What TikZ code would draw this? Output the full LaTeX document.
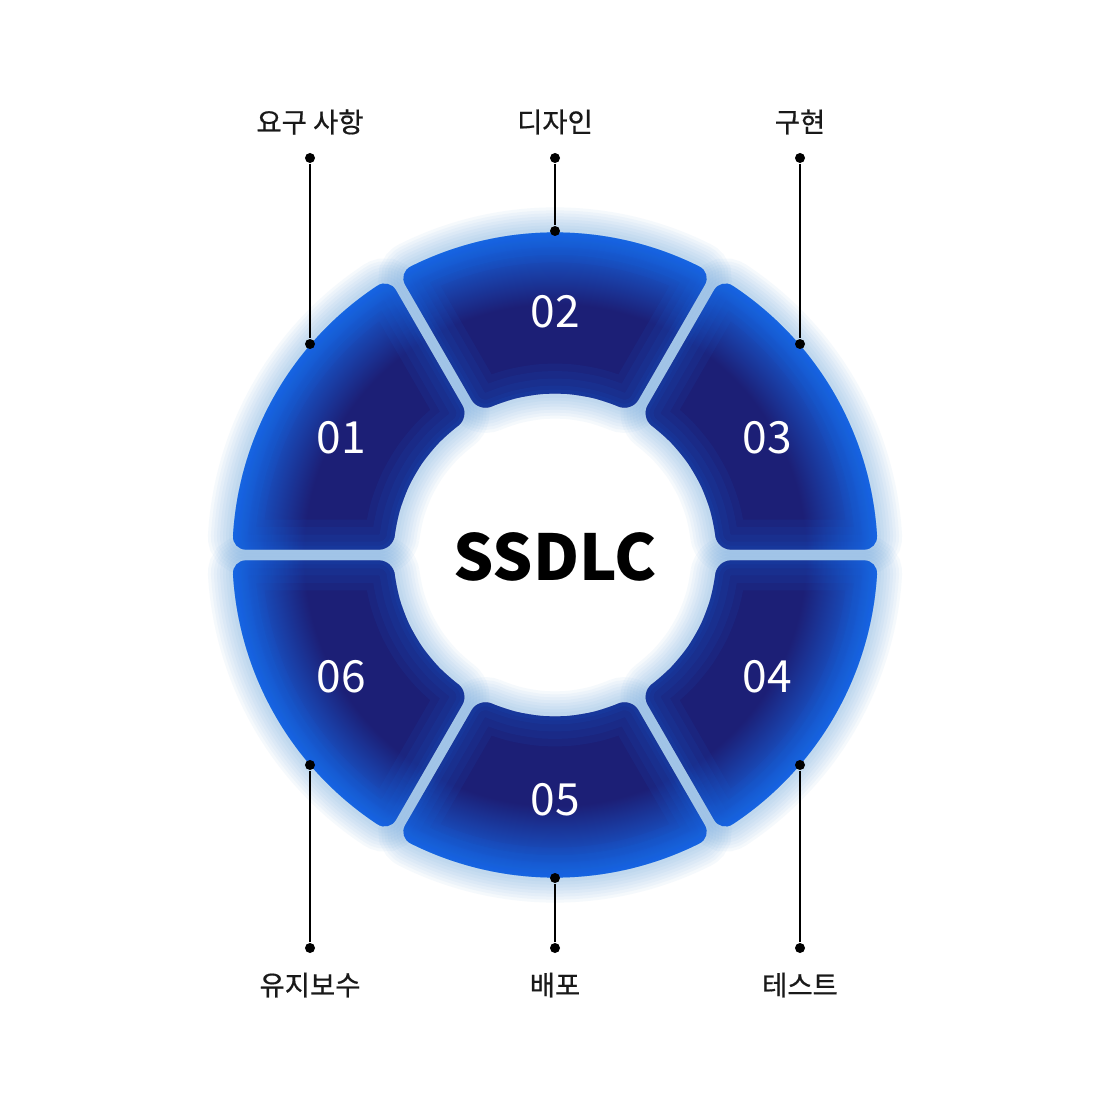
\documentclass[tikz,border=0pt]{standalone}
\usepackage{fontspec}
\setmainfont{Noto Sans CJK KR}
\newfontfamily\krlabel[FakeBold=0.6]{Noto Sans CJK KR}
\usepackage{tikz}
\definecolor{navy}{RGB}{28,31,118}
\definecolor{bright}{RGB}{22,108,236}
\definecolor{halo}{RGB}{100,160,220}
\definecolor{ink}{RGB}{25,25,25}
\pgfdeclareradialshading{ringshade}{\pgforigin}{color(0bp)=(navy); color(19bp)=(navy); color(25bp)=(bright); color(50bp)=(bright)}
\newcommand{\segpath}[2]{({#1+1.9}:162) -- ({#1+0.95}:323)
  \foreach \t in {1,...,9} { -- ({#1+0.95+\t*(#2-#1-1.9)/10}:323) }
  -- ({#2-0.95}:323) -- ({#2-1.9}:162)
  \foreach \t in {1,...,5} { -- ({#2-1.9-\t*(#2-#1-3.8)/6}:162) } -- cycle}

\begin{document}
\begin{tikzpicture}[
     x = 0.01cm, y = 0.01cm,
     phase/.style = {ink, font = \krlabel\fontsize{7.8pt}{9pt}\selectfont},
     num/.style = {white, font = \fontsize{12.6pt}{14pt}\selectfont},
     title/.style = {black, font = \fontsize{18pt}{21pt}\selectfont\bfseries},
     dot/.style = {circle, fill = black, inner sep = 0pt, minimum size = 0.1cm},
     wire/.style = {black, line width = 0.6pt},
     seg/.style = {rounded corners = 0.14cm}
     ]
     \fill[white] (-555,-555) rectangle (555,555);
     \useasboundingbox (-555,-555) rectangle (555,555);

     % glow around the ring
     \foreach \a/\b in {60/120,120/180,180/240,240/300,300/360,0/60} {
       \foreach \w in {5mm,4.4mm,3.8mm,3.2mm,2.6mm,2mm,1.4mm,0.8mm}
         \draw[seg, halo, opacity = 0.06, line width = \w] \segpath{\a}{\b};
     }

     % the six segments
     \foreach \a/\b in {60/120,120/180,180/240,240/300,300/360,0/60} {
       \begin{scope}
         \clip[seg] \segpath{\a}{\b};
         \shade[shading = ringshade] (0,0) circle[radius = 330];
         \foreach \w in {6mm,4.5mm,3mm,1.6mm,0.8mm}
           \draw[seg, bright, opacity = 0.08, line width = \w] \segpath{\a}{\b};
       \end{scope}
     }

       \node[num] (n1) at (-214,117) {01}; % 0
       \node[num] (n2) at (0,243) {02}; % 1
       \node[num] (n3) at (212,117) {03}; % 2
       \node[num] (n4) at (212,-122) {04}; % 3
       \node[num] (n5) at (0,-245) {05}; % 4
       \node[num] (n6) at (-214,-122) {06}; % 5
       \node[title] (c) at (0,-2) {SSDLC};

       \node[phase] (p1) at (-245,433) {요구 사항};
       \node[phase] (p2) at (0,433) {디자인};
       \node[phase] (p3) at (245,433) {구현};
       \node[phase] (p4) at (245,-430) {테스트};
       \node[phase] (p5) at (0,-430) {배포};
       \node[phase] (p6) at (-245,-430) {유지보수};

       \node[dot] (t1) at (-245,397) {};
       \node[dot] (t2) at (0,397) {};
       \node[dot] (t3) at (245,397) {};
       \node[dot] (t4) at (245,-393) {};
       \node[dot] (t5) at (0,-393) {};
       \node[dot] (t6) at (-245,-393) {};
       \node[dot] (e1) at (-245,211) {};
       \node[dot] (e2) at (0,324) {};
       \node[dot] (e3) at (245,211) {};
       \node[dot] (e4) at (245,-210) {};
       \node[dot] (e5) at (0,-323) {};
       \node[dot] (e6) at (-245,-210) {};
       \draw[wire] (t1)--(e1);
       \draw[wire] (t2)--(e2);
       \draw[wire] (t3)--(e3);
       \draw[wire] (t4)--(e4);
       \draw[wire] (t5)--(e5);
       \draw[wire] (t6)--(e6);
      \end{tikzpicture}
\end{document}
